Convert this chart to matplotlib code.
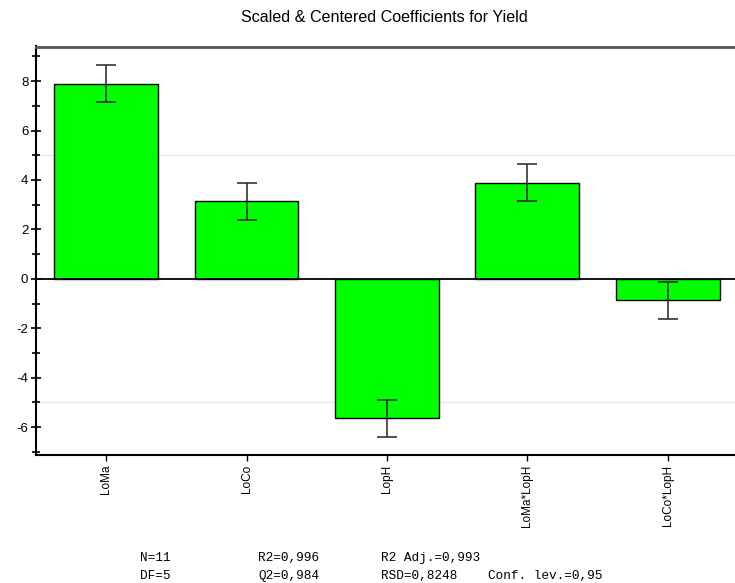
import matplotlib
matplotlib.use("Agg")
import matplotlib.pyplot as plt
from matplotlib.ticker import MultipleLocator

plt.rcParams["axes.unicode_minus"] = False

terms = ["LoMa", "LoCo", "LopH", "LoMa*LopH", "LoCo*LopH"]
coefs = [7.89, 3.13, -5.64, 3.88, -0.87]
errs = [0.75, 0.75, 0.75, 0.75, 0.76]
stats_line1 = [("N=11", 140), ("R2=0,996", 258), ("R2 Adj.=0,993", 381)]
stats_line2 = [("DF=5", 140), ("Q2=0,984", 258), ("RSD=0,8248", 381), ("Conf. lev.=0,95", 488)]

W, H = 735, 583
fig = plt.figure(figsize=(W / 100, H / 100), dpi=100)
ax = fig.add_axes([36 / W, 1 - 455 / H, (W - 36) / W, (455 - 46.5) / H])

x = list(range(len(terms)))
ax.bar(x, coefs, width=0.74, color="#00ff00", edgecolor="black", linewidth=1.0, zorder=3)
ax.errorbar(x, coefs, yerr=errs, fmt="none", ecolor="#333333", elinewidth=1.2,
            capsize=7, capthick=1.2, zorder=4)
ax.axhline(0, color="black", linewidth=1.3, zorder=5)
for g in (5, -5):
    ax.axhline(g, color="#e6e6e6", linewidth=1.0, zorder=1)

ax.set_xlim(-0.5, 4.48)
ax.set_ylim(-7.13, 9.40)
ax.yaxis.set_major_locator(MultipleLocator(2))
ax.yaxis.set_minor_locator(MultipleLocator(1))
ax.tick_params(axis="y", which="major", direction="inout", length=7, width=1.2,
               labelsize=9.5, pad=2)
ax.tick_params(axis="y", which="minor", direction="inout", length=6, width=1.2)
ax.set_xticks(x)
ax.set_xticklabels(terms, rotation=90, fontsize=8.5, va="top")
ax.tick_params(axis="x", direction="out", length=4, width=1.0, pad=3)
for lab in ax.get_yticklabels():
    lab.set_family("Liberation Sans")
for lab in ax.get_xticklabels():
    lab.set_family("Liberation Sans")

ax.spines["right"].set_visible(False)
ax.spines["top"].set_color("#555555")
ax.spines["top"].set_linewidth(2.0)
ax.spines["left"].set_linewidth(1.5)
ax.spines["bottom"].set_linewidth(1.5)

fig.text(384 / W, 1 - 17 / H, "Scaled & Centered Coefficients for Yield",
         ha="center", va="center", fontsize=11.6, family="Liberation Sans")

for s, px in stats_line1:
    fig.text(px / W, 1 - 558 / H, s, ha="left", va="center", fontsize=9.2,
             family="Liberation Mono")
for s, px in stats_line2:
    fig.text(px / W, 1 - 576 / H, s, ha="left", va="center", fontsize=9.2,
             family="Liberation Mono")

fig.savefig("out.png", dpi=100)
